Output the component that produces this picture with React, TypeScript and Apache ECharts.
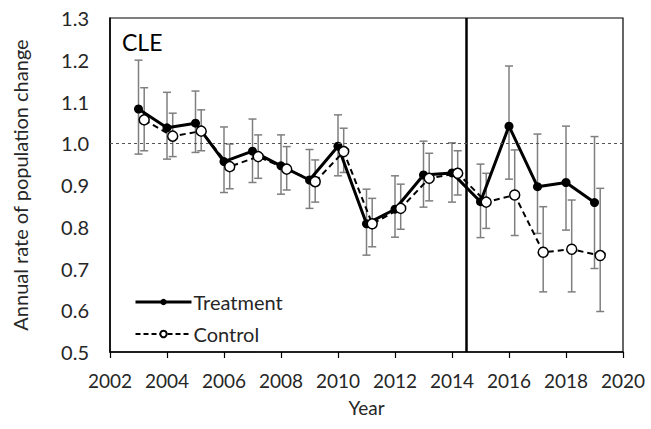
import React, { useEffect, useRef } from "react";
import * as echarts from "echarts";

const years = [2003, 2004, 2005, 2006, 2007, 2008, 2009, 2010, 2011, 2012, 2013, 2014, 2015, 2016, 2017, 2018, 2019];
const treatment = [1.082, 1.037, 1.048, 0.956, 0.981, 0.946, 0.912, 0.993, 0.807, 0.842, 0.924, 0.929, 0.860, 1.041, 0.896, 0.906, 0.858];
const treatmentLow = [0.974, 0.962, 0.978, 0.882, 0.906, 0.878, 0.844, 0.922, 0.732, 0.775, 0.847, 0.859, 0.774, 0.914, 0.784, 0.792, 0.700];
const treatmentHigh = [1.199, 1.122, 1.125, 1.039, 1.058, 1.020, 0.985, 1.068, 0.890, 0.922, 1.005, 1.001, 0.950, 1.185, 1.022, 1.041, 1.016];
const control = [1.056, 1.017, 1.029, 0.944, 0.968, 0.938, 0.908, 0.980, 0.807, 0.844, 0.916, 0.928, 0.859, 0.876, 0.739, 0.746, 0.731];
const controlLow = [0.982, 0.968, 0.982, 0.891, 0.916, 0.888, 0.859, 0.930, 0.752, 0.794, 0.862, 0.876, 0.796, 0.779, 0.644, 0.644, 0.597];
const controlHigh = [1.133, 1.072, 1.080, 0.998, 1.020, 0.992, 0.960, 1.036, 0.868, 0.902, 0.976, 0.982, 0.928, 0.984, 0.848, 0.864, 0.892];
const interventionYear = 2014.5;
const referenceRate = 1.0;
const CONTROL_OFFSET = 0.2;

const FONT = "Lato, 'Open Sans', sans-serif";
const TEXT = "#262626";

function errorBarSeries(name: string, xs: number[], lo: number[], hi: number[]) {
  return {
    type: "custom",
    name,
    z: 1,
    silent: true,
    data: xs.map((x, i) => [x, lo[i], hi[i]]),
    encode: { x: 0, y: [1, 2] },
    renderItem: (params: any, api: any) => {
      const x = api.value(0);
      const pHi = api.coord([x, api.value(2)]);
      const pLo = api.coord([x, api.value(1)]);
      const cap = 4;
      const style = { stroke: "#7f7f7f", lineWidth: 1.5 };
      return {
        type: "group",
        children: [
          { type: "line", shape: { x1: pHi[0], y1: pHi[1], x2: pLo[0], y2: pLo[1] }, style },
          { type: "line", shape: { x1: pHi[0] - cap, y1: pHi[1], x2: pHi[0] + cap, y2: pHi[1] }, style },
          { type: "line", shape: { x1: pLo[0] - cap, y1: pLo[1], x2: pLo[0] + cap, y2: pLo[1] }, style },
        ],
      };
    },
  };
}

export default function App() {
  const ref = useRef<HTMLDivElement>(null);
  useEffect(() => {
    if (!ref.current) return;
    const chart = echarts.init(ref.current, null, { renderer: "svg" });
    const controlX = years.map((y) => y + CONTROL_OFFSET);
    chart.setOption({
      animation: false,
      backgroundColor: "#fff",
      textStyle: { fontFamily: FONT },
      grid: { left: 110, right: 28, top: 18, bottom: 77, show: true, borderColor: "#000", borderWidth: 1.2, backgroundColor: "transparent" },
      legend: {
        data: [
          { name: "Treatment", lineStyle: { width: 3, color: "#000", type: "solid" } },
          { name: "Control", lineStyle: { width: 2, color: "#000", type: [5, 3] } },
        ],
        orient: "vertical",
        left: 129,
        top: 287,
        itemWidth: 56,
        itemHeight: 8,
        itemGap: 12,
        textStyle: { fontFamily: FONT, fontSize: 20, color: TEXT, padding: [0, 0, 0, -3] },
      },
      xAxis: {
        type: "value",
        min: 2002,
        max: 2020,
        interval: 2,
        name: "Year",
        nameLocation: "middle",
        nameGap: 46,
        nameTextStyle: { fontFamily: FONT, fontSize: 19, color: TEXT },
        axisLine: { lineStyle: { color: "#000", width: 1.5 } },
        axisTick: { show: true, length: 6, lineStyle: { color: "#000", width: 1.2 } },
        axisLabel: { fontFamily: FONT, fontSize: 19, color: TEXT, margin: 19, formatter: (v: number) => String(v) },
        splitLine: { show: false },
      },
      yAxis: {
        type: "value",
        min: 0.5,
        max: 1.3,
        interval: 0.1,
        name: "Annual rate of population change",
        nameLocation: "middle",
        nameGap: 80,
        nameTextStyle: { fontFamily: FONT, fontSize: 20, color: TEXT },
        axisLine: { show: true, lineStyle: { color: "#000", width: 1.5 } },
        axisTick: { show: false },
        axisLabel: { fontFamily: FONT, fontSize: 20, color: TEXT, margin: 21, formatter: (v: number) => v.toFixed(1) },
        splitLine: { show: false },
      },
      graphic: [
        { type: "text", left: 122, top: 30, style: { text: "CLE", fontFamily: FONT, fontSize: 23, fill: "#000" } },
      ],
      series: [
        errorBarSeries("tErr", years, treatmentLow, treatmentHigh),
        errorBarSeries("cErr", controlX, controlLow, controlHigh),
        {
          type: "line",
          name: "Treatment",
          z: 3,
          data: years.map((y, i) => [y, treatment[i]]),
          symbol: "circle",
          symbolSize: 9,
          lineStyle: { color: "#000", width: 3 },
          itemStyle: { color: "#000", borderColor: "#000", borderWidth: 0 },
          markLine: {
            silent: true,
            symbol: "none",
            label: { show: false },
            data: [
              { xAxis: interventionYear, lineStyle: { color: "#000", width: 2.5, type: "solid" } },
              { yAxis: referenceRate, lineStyle: { color: "#555", width: 1, type: [3, 3] } },
            ],
          },
        },
        {
          type: "line",
          name: "Control",
          z: 4,
          data: controlX.map((x, i) => [x, control[i]]),
          symbol: "circle",
          symbolSize: 10,
          lineStyle: { color: "#000", width: 2, type: [6, 4] },
          itemStyle: { color: "#fff", borderColor: "#000", borderWidth: 1.5 },
        },
      ],
    });
    return () => chart.dispose();
  }, []);
  return <div ref={ref} style={{ position: "fixed", left: 0, top: 0, width: 651, height: 429 }} />;
}
